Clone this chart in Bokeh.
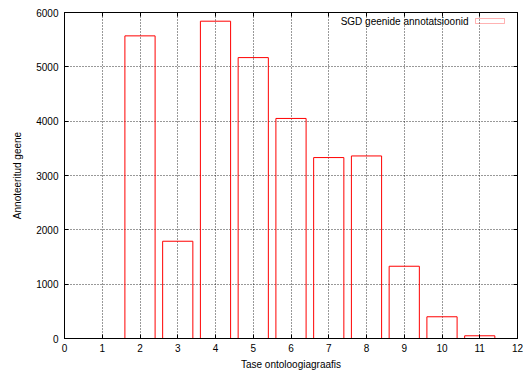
from bokeh.plotting import figure
from bokeh.models import LinearAxis, Range1d, FixedTicker, Label, BoxAnnotation, CustomLabelingPolicy
from bokeh.embed import file_html
from bokeh.resources import INLINE

levels = [2, 3, 4, 5, 6, 7, 8, 9, 10, 11]
genes = [5570, 1790, 5840, 5170, 4050, 3330, 3360, 1330, 400, 50]
series_name = "SGD geenide annotatsioonid"
x_ticks = list(range(0, 13))
y_ticks = [0, 1000, 2000, 3000, 4000, 5000, 6000]

FONT = "Liberation Sans"

p = figure(width=523, height=372, output_backend="svg", toolbar_location=None,
           x_range=Range1d(0, 12), y_range=Range1d(0, 6000),
           min_border_left=64, min_border_right=6, min_border_top=12, min_border_bottom=33)
p.background_fill_color = "white"
p.border_fill_color = "white"
p.outline_line_color = "black"
p.outline_line_width = 1

p.vbar(x=levels, top=genes, width=0.8, bottom=0, fill_color=None,
       line_color="#ff0000", line_width=1)

for ax in (p.xaxis[0], p.yaxis[0]):
    ax.major_tick_out = 0
    ax.major_tick_in = 4
    ax.minor_tick_out = 0
    ax.minor_tick_in = 0
    ax.axis_line_color = "black"
    ax.major_label_text_font = FONT
    ax.major_label_text_font_size = "10px"
    ax.major_label_text_color = "black"
    ax.axis_label_text_font = FONT
    ax.axis_label_text_font_size = "10px"
    ax.axis_label_text_font_style = "normal"
    ax.axis_label_text_color = "black"

p.xaxis[0].ticker = FixedTicker(ticks=x_ticks)
p.yaxis[0].ticker = FixedTicker(ticks=y_ticks)
p.xaxis[0].axis_label = "Tase ontoloogiagraafis"
p.yaxis[0].axis_label = "Annoteeritud geene"
p.xaxis[0].major_label_standoff = 5
p.yaxis[0].major_label_standoff = 6
p.xaxis[0].axis_label_standoff = 4
p.yaxis[0].axis_label_standoff = 10

top_ax = LinearAxis(ticker=FixedTicker(ticks=x_ticks))
right_ax = LinearAxis(ticker=FixedTicker(ticks=y_ticks))
for ax in (top_ax, right_ax):
    ax.major_tick_out = 0
    ax.major_tick_in = 4
    ax.minor_tick_out = 0
    ax.minor_tick_in = 0
    ax.major_label_text_font_size = "1px"
    ax.major_label_standoff = 0
    ax.major_label_policy = CustomLabelingPolicy(code="return []")
    ax.axis_line_color = "black"
p.add_layout(top_ax, "above")
p.add_layout(right_ax, "right")

for g in (p.xgrid[0], p.ygrid[0]):
    g.grid_line_color = "black"
    g.grid_line_dash = "1 2"
    g.grid_line_width = 1
    g.grid_line_alpha = 0.8
p.xgrid[0].ticker = FixedTicker(ticks=x_ticks)
p.ygrid[0].ticker = FixedTicker(ticks=y_ticks)

# legend (gnuplot style: label left, sample box right)
p.add_layout(Label(x=404, y=317, x_units="screen", y_units="screen", text=series_name,
                   text_font=FONT, text_font_size="10px", text_align="right",
                   text_baseline="middle", text_color="black"))
p.add_layout(BoxAnnotation(left=411, right=440, bottom=315, top=320,
                           left_units="screen", right_units="screen",
                           top_units="screen", bottom_units="screen",
                           fill_color=None, fill_alpha=0, line_color="#ff0000", line_width=1))

open("out.html", "w").write(file_html(p, INLINE))
